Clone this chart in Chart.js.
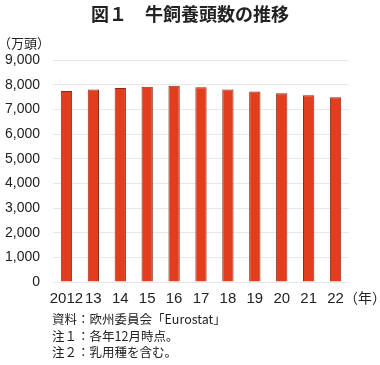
<!DOCTYPE html>
<html lang="ja">
<head>
    <meta charset="UTF-8">
    <title>牛飼養頭数の推移</title>
    <script src="https://cdn.jsdelivr.net/npm/chart.js"></script>
    <style>
        body {
            margin: 0;
            background: #fff;
            font-family: "Noto Sans CJK JP", sans-serif;
            color: #222;
        }
        #wrap {
            position: relative;
            width: 380px;
            height: 365px;
        }
        .txt {
            position: absolute;
            white-space: nowrap;
            line-height: 1;
        }
        #title {
            top: 4px;
            left: 0;
            width: 380px;
            text-align: center;
            font-size: 18px;
            font-weight: bold;
        }
        #unit { top: 36px; left: -2px; font-size: 13px; }
        #yearUnit { top: 290px; left: 344px; font-size: 14px; }
        .note { left: 52px; font-size: 12.5px; }
    </style>
</head>
<body>
    <div id="wrap">
        <canvas id="cattleChart" width="380" height="365"></canvas>
        <div class="txt" id="title">図１　牛飼養頭数の推移</div>
        <div class="txt" id="unit">（万頭）</div>
        <div class="txt" id="yearUnit">（年）</div>
        <div class="txt note" style="top:313px">資料：欧州委員会「Eurostat」</div>
        <div class="txt note" style="top:330px">注１：各年12月時点。</div>
        <div class="txt note" style="top:346px">注２：乳用種を含む。</div>
    </div>

    <script>
        // 年（横軸ラベル）
        const years = ['2012', '13', '14', '15', '16', '17', '18', '19', '20', '21', '22'];
        // 牛飼養頭数（万頭）
        const heads = [7745, 7800, 7865, 7920, 7960, 7895, 7800, 7720, 7650, 7570, 7490];
        const yMin = 0;
        const yMax = 9000;
        const yStep = 1000;

        const ctx = document.getElementById('cattleChart').getContext('2d');
        new Chart(ctx, {
            type: 'bar',
            data: {
                labels: years,
                datasets: [{
                    data: heads,
                    backgroundColor: '#e23d1d',
                    borderColor: '#8e2a18',
                    borderWidth: 1,
                    categoryPercentage: 1.0,
                    barPercentage: 0.42
                }]
            },
            options: {
                responsive: false,
                animation: false,
                layout: {
                    padding: { top: 60, right: 31, left: 0, bottom: 0 }
                },
                plugins: {
                    legend: { display: false },
                    tooltip: { enabled: false }
                },
                scales: {
                    x: {
                        grid: { display: false, drawTicks: false },
                        border: { display: false },
                        ticks: {
                            color: '#222',
                            padding: 8,
                            maxRotation: 0,
                            autoSkip: false,
                            font: { family: 'Liberation Sans', size: 15 }
                        },
                        afterFit: (scale) => { scale.height = 83; }
                    },
                    y: {
                        min: yMin,
                        max: yMax,
                        grid: { color: '#e8e8e8', drawTicks: false },
                        border: { display: false },
                        ticks: {
                            stepSize: yStep,
                            color: '#222',
                            padding: 13,
                            font: { family: 'Liberation Sans', size: 14 },
                            callback: (v) => v.toLocaleString('en-US')
                        },
                        afterFit: (scale) => { scale.width = 53; }
                    }
                }
            }
        });
    </script>
</body>
</html>
